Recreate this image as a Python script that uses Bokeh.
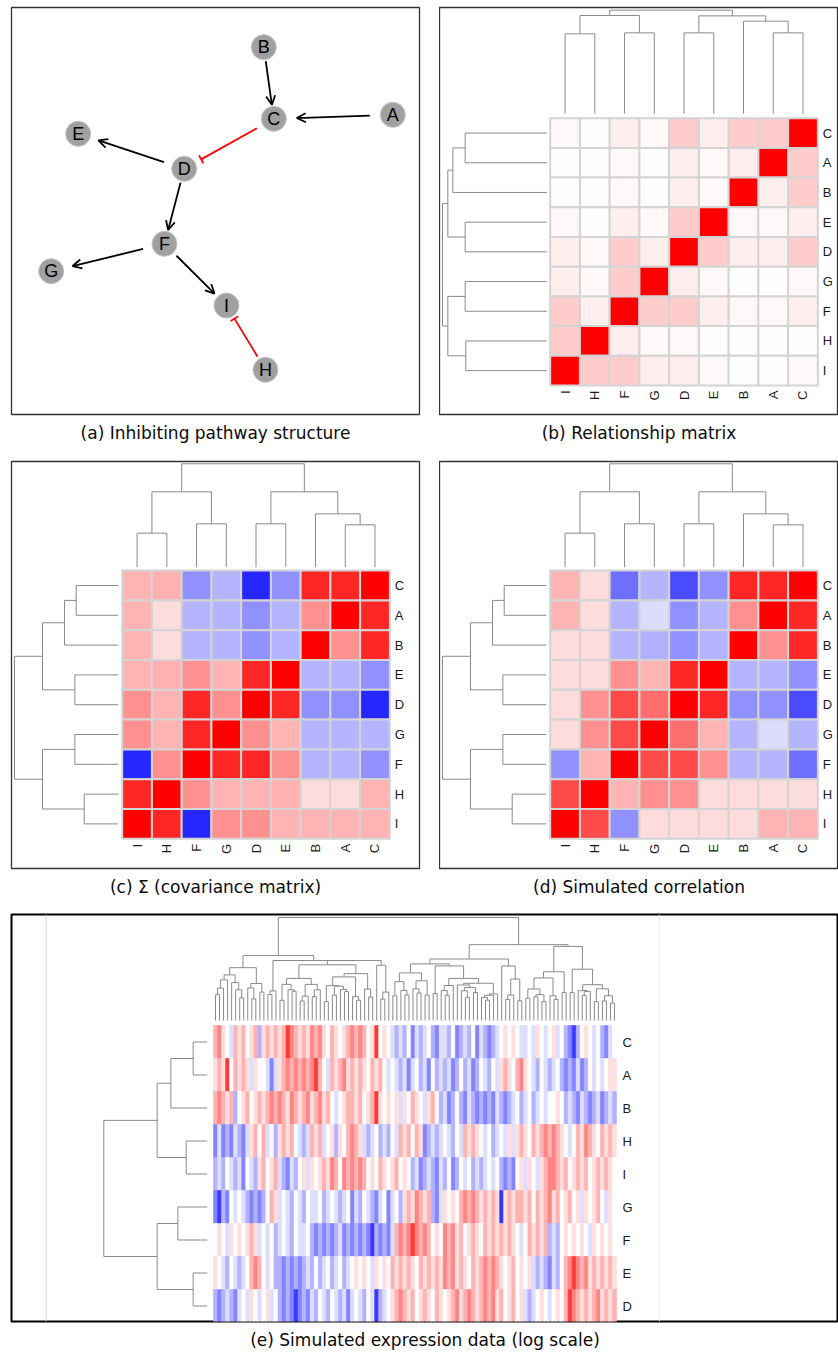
import numpy as np
from bokeh.plotting import figure
from bokeh.models import Range1d, ColumnDataSource, Arrow, OpenHead, TeeHead, LinearColorMapper, Span
from bokeh.layouts import column, row
from bokeh.embed import file_html
from bokeh.resources import INLINE
from bokeh.core.properties import value

# ------------------------------------------------------------------ data
# (a) pathway graph: node layout (pixels inside the panel, y downward)
node_names = ["A", "B", "C", "D", "E", "F", "G", "H", "I"]
node_x = [381.3, 252.3, 262.3, 172.7, 66.7, 153.0, 39.7, 254.0, 215.0]
node_y = [107.3, 39.7, 111.3, 161.3, 126.3, 236.3, 263.7, 362.3, 298.0]
edge_from = ["B", "A", "C", "D", "D", "F", "F", "H"]
edge_to = ["C", "C", "D", "E", "F", "G", "I", "I"]
edge_kind = ["act", "act", "inh", "act", "act", "act", "act", "inh"]

# (b)-(d) heatmaps: columns left->right, rows top->bottom
heat_cols = ["I", "H", "F", "G", "D", "E", "B", "A", "C"]
heat_rows = ["C", "A", "B", "E", "D", "G", "F", "H", "I"]

relationship = [
    [0.03, 0.00, 0.07, 0.03, 0.20, 0.07, 0.20, 0.20, 1.00],
    [0.00, 0.00, 0.03, 0.00, 0.07, 0.03, 0.07, 1.00, 0.20],
    [0.00, 0.00, 0.03, 0.00, 0.07, 0.03, 1.00, 0.07, 0.20],
    [0.03, 0.00, 0.07, 0.03, 0.20, 1.00, 0.03, 0.03, 0.07],
    [0.07, 0.03, 0.20, 0.07, 1.00, 0.20, 0.07, 0.07, 0.20],
    [0.07, 0.03, 0.20, 1.00, 0.07, 0.03, 0.00, 0.00, 0.03],
    [0.20, 0.07, 1.00, 0.20, 0.20, 0.07, 0.03, 0.03, 0.07],
    [0.20, 1.00, 0.07, 0.03, 0.03, 0.00, 0.00, 0.00, 0.00],
    [1.00, 0.20, 0.20, 0.07, 0.07, 0.03, 0.00, 0.00, 0.03],
]

covariance = [
    [0.29, 0.31, -0.43, -0.29, -0.85, -0.43, 0.85, 0.85, 1.00],
    [0.29, 0.14, -0.29, -0.29, -0.43, -0.29, 0.43, 1.00, 0.85],
    [0.29, 0.14, -0.29, -0.29, -0.43, -0.29, 1.00, 0.43, 0.85],
    [0.29, 0.31, 0.43, 0.29, 0.85, 1.00, -0.29, -0.29, -0.43],
    [0.43, 0.29, 0.85, 0.43, 1.00, 0.85, -0.43, -0.43, -0.85],
    [0.43, 0.29, 0.85, 1.00, 0.43, 0.29, -0.29, -0.29, -0.29],
    [-0.85, 0.43, 1.00, 0.85, 0.85, 0.43, -0.29, -0.29, -0.43],
    [0.85, 1.00, 0.43, 0.29, 0.29, 0.31, 0.14, 0.14, 0.29],
    [1.00, 0.85, -0.85, 0.43, 0.43, 0.29, 0.29, 0.29, 0.29],
]

correlation = [
    [0.29, 0.14, -0.57, -0.29, -0.71, -0.43, 0.85, 0.85, 1.00],
    [0.29, 0.14, -0.29, -0.14, -0.43, -0.29, 0.43, 1.00, 0.85],
    [0.14, 0.14, -0.29, -0.31, -0.43, -0.29, 1.00, 0.43, 0.85],
    [0.14, 0.14, 0.43, 0.29, 0.85, 1.00, -0.29, -0.29, -0.43],
    [0.14, 0.43, 0.71, 0.57, 1.00, 0.85, -0.43, -0.43, -0.71],
    [0.14, 0.43, 0.71, 1.00, 0.57, 0.29, -0.29, -0.14, -0.29],
    [-0.43, 0.29, 1.00, 0.71, 0.71, 0.43, -0.29, -0.29, -0.57],
    [0.71, 1.00, 0.29, 0.43, 0.43, 0.14, 0.14, 0.14, 0.14],
    [1.00, 0.71, -0.43, 0.14, 0.14, 0.14, 0.14, 0.29, 0.29],
]

# dendrogram merges: [left, right, height]; ints refer to earlier merges
col_merges_b = [["I", "H", 240], ["F", "G", 243], ["D", "E", 243], ["A", "C", 243],
                ["B", 3, 278], [0, 1, 295], [2, 4, 294], [5, 6, 311]]
row_merges_b = [["C", "A", 245], [0, "B", 282], ["E", "D", 245], [1, 2, 297],
                ["G", "F", 245], ["H", "I", 243], [4, 5, 297], [3, 6, 313]]
col_merges_cd = [["I", "H", 102], ["F", "G", 130], ["D", "E", 130], ["A", "C", 127],
                 ["B", 3, 160], [0, 1, 226], [2, 4, 226], [5, 6, 310]]
row_merges_cd = [["C", "A", 126], [0, "B", 161], ["E", "D", 130], [1, 2, 227],
                 ["G", "F", 130], ["H", "I", 102], [4, 5, 227], [3, 6, 311]]

# (e) simulated expression: rows top->bottom, 100 column bands, levels -4..4
expr_rows = ["C", "A", "B", "H", "I", "G", "F", "E", "D"]
row_merges_e = [["C", "A", 14], [0, "B", 36.3], ["H", "I", 21], [1, 2, 50],
                ["G", "F", 29.3], ["E", "D", 14], [4, 5, 50], [3, 6, 103.3]]
level_values = [-0.78, -0.48, -0.3, -0.13, 0.0, 0.13, 0.3, 0.48, 0.78]

expr_C = [2, 3, 1, 0, -1, 2, 1, 2, 0, 1, 2, -2, 1, 2, 1, 2, 1, 2, 4, 3, 2, 1, 2, 1, 3, 2, 3, 1, 0, 2, 1, 0, 1, 2,
          3, 2, 3, 2, 0, 1, 4, 0, 1, 0, -1, -2, -1, -2, 0, -3, -1, -2, -1, 0, -2, -3, -1, -1, -2, 0, -3, -2, -1, -2, 0, -3, -1,
          -2, -3, -2, -1, 0, 1, 0, 1, 0, -1, -1, 0, -1, 1, 0, -1, 0, 1, -1, 0, -2, -3, -4, -2, 0, 1, 0, -1, 0, -2, -3, -1, 0]
expr_A = [1, 2, 1, 4, 0, 2, 1, 2, 1, -1, 1, 0, 0, -1, -3, -1, 1, 2, 3, 2, 3, 2, 3, 2, 3, 4, 2, 0, -1, 2, 1, 2, 3, 1,
          2, 1, 2, 1, 0, 2, 1, 2, 0, -1, 0, -1, -2, -1, -3, -1, 0, -2, -1, -3, 0, -2, -1, -2, -1, -3, -2, 0, -2, -1, -3, -2, 0,
          -1, -2, 0, -1, 1, 2, 1, 0, 2, 3, 1, 0, -1, -2, 0, -1, -2, -1, 0, -2, -3, -2, -3, -1, -3, -2, 0, -1, 0, -1, 0, 1, 1]
expr_B = [2, 3, 2, 1, 2, -2, 0, 1, 2, 0, 1, 2, 1, 2, 3, 2, 3, 2, 1, 3, 2, 1, 2, 3, 1, 2, 3, 1, 2, 0, -1, 0, 1, 2,
          2, 1, 2, 0, 1, 2, 4, 1, 0, 1, 0, 1, -1, 1, 0, 2, 1, 0, -1, 1, 2, 0, -2, -1, -3, -2, 0, -2, -3, -1, -2, -3, -2,
          -3, -2, -3, -1, -2, -3, -2, -1, 0, -2, -1, 0, -2, -1, 0, -1, 0, 0, 1, 0, -2, -1, -2, -3, -1, -2, -3, -2, -1, -3, -2, -1, -2]
expr_H = [-3, -1, -3, -2, -3, -1, -2, -3, -1, 1, 2, 0, 2, -1, 0, -2, 1, 2, 1, 2, 0, -1, -2, -1, 2, 1, 2, -1, 0, 1, -2, 1, 0, 2,
          3, 2, 1, -1, -2, -1, 0, -2, -1, -2, 0, -1, 2, 1, 2, 0, 2, 1, -3, -2, -1, -2, -1, 0, -1, -2, 0, -1, 2, 1, 2, 1, 0,
          -1, 0, -2, -1, 0, -1, 1, -1, 1, 2, 1, 0, 2, 1, 2, 3, 2, 3, 2, 1, 0, -1, 0, 2, 1, 3, 2, 1, 0, 2, 1, 2, 1]
expr_I = [-2, -1, -2, 0, -1, -2, -1, -3, 0, -1, -2, 1, 2, 0, 1, 2, -1, -2, -3, -1, -2, 0, 1, -1, 1, 0, 1, 2, 1, 3, 2, 0, 3, 2,
          3, 2, 3, 2, 0, 1, 0, 2, 1, 0, 1, 2, 0, 1, 0, -2, -1, -3, -2, -1, -2, -3, -1, -2, 0, -3, -2, 0, -1, 0, -2, -1, -2,
          -1, 0, -1, 0, -2, -3, -2, -3, 0, 1, -1, 1, 0, -1, 1, 2, 3, 3, 2, 1, 2, 0, 1, 2, 1, 2, 0, 1, 2, 1, 2, 1, 0]
expr_G = [-3, -4, -2, -3, 0, -1, 0, -1, -2, -3, -2, -3, -2, 0, 2, 1, -1, 0, -1, -2, 0, -1, -2, 0, -1, -1, 0, -2, -1, 0, -1, -2, -1, 0,
          -3, -1, -2, 0, -1, -2, -3, -1, 0, -3, -1, 0, -2, 1, 2, 1, 3, 2, 1, 2, -2, -3, -1, 1, 0, 1, 0, 2, 3, 2, 3, 2, 1,
          2, 1, 2, 1, -4, 1, 2, 1, 2, 2, 1, 2, 0, 2, 1, 2, 3, 1, 2, 0, 1, 2, 0, 1, -1, 1, 0, 1, 2, 0, -1, 1, 0]
expr_F = [0, 1, 0, -1, 1, 0, 1, 0, 1, 2, 1, -1, 0, -1, 0, -2, -1, 0, -1, -2, 0, -1, -1, 0, -2, -3, -2, -3, -2, -3, -2, -1, -3, -2,
          -3, -2, -3, -2, -3, -4, -2, -3, -2, -3, -1, 2, 3, 2, 3, 4, 3, 2, 3, 2, 0, 1, 0, 3, 2, 3, 1, 2, 0, 1, 2, 1, 0,
          2, 1, 2, 1, 2, 1, 2, 1, 0, -1, 0, 2, 1, 2, 1, 2, -2, -1, -2, 0, 1, 0, 1, 0, 1, 0, -1, 1, 0, 1, 0, 1, 0]
expr_E = [1, 0, -1, -2, 0, -1, -2, -1, 0, 2, 3, 2, 0, -1, 0, -2, -2, -3, -2, -3, -2, -3, -2, -1, -2, 0, -2, -1, 0, -2, -1, 0, -2, -1,
          0, 1, 0, 1, 0, -1, 1, 0, 1, 0, 2, 1, 2, 1, 2, 1, 0, 2, 1, 2, 1, 2, 1, 3, 2, 3, 1, 2, 1, 0, 2, 1, 2,
          3, 2, 3, 2, 1, 0, 1, 2, 0, 1, 0, 1, -1, -2, -1, -2, -3, -1, -2, 0, 2, 3, 4, 3, 2, 3, 1, 2, 1, 2, 1, 2, 1]
expr_D = [-2, -3, -2, -1, -2, -3, -1, 0, -1, 1, 0, -1, 0, 1, -1, 0, -2, -3, -2, -3, -4, -3, -2, -3, -1, -2, 0, -1, -2, 0, -1, -2, -1, -3,
          -1, 0, -1, -2, 0, -1, -4, -2, -1, 0, 1, 2, 3, 2, 1, 2, 0, 1, 2, 1, 0, 2, 1, 0, 1, 2, 3, 1, 2, 3, 2, 1, 2,
          3, 2, 3, 1, 2, 0, 1, 2, 0, 1, -1, -2, -1, 0, 1, 0, -1, 0, 1, 0, 2, 4, 3, 2, 1, 2, 1, 2, 3, 1, 2, 1, 2]
expr_levels = [expr_C, expr_A, expr_B, expr_H, expr_I, expr_G, expr_F, expr_E, expr_D]

captions = ["(a) Inhibiting pathway structure", "(b) Relationship matrix",
            "(c) \u03a3 (covariance matrix)", "(d) Simulated correlation",
            "(e) Simulated expression data (log scale)"]

# ------------------------------------------------------------------ styles
palette = []
for k in range(256):
    t = k / 255 * 2 - 1
    if t < 0:
        c = int(round(255 * (1 + t)))
        palette.append("#%02x%02x%02x" % (c, c, 255))
    else:
        c = int(round(255 * (1 - t)))
        palette.append("#%02x%02x%02x" % (255, c, c))
mapper = LinearColorMapper(palette=palette, low=-1, high=1)

DENDRO_COLOR = "#8a8a8a"
LABEL_FONT = value("Liberation Sans")


class Geo:
    """pixel <-> data conversion for one panel"""
    def __init__(s, fl, fr, ft, fb, hl, hb, cw, ch):
        s.fl, s.fr, s.ft, s.fb, s.hl, s.hb, s.cw, s.ch = fl, fr, ft, fb, hl, hb, cw, ch

    def x(s, px):
        return (px - s.hl) / s.cw

    def y(s, py):
        return (s.hb - py) / s.ch


def panel(fw, fh, bl, br, bt, bb, xr, yr, caption, ow=1.3, oc="#333333"):
    p = figure(frame_width=fw, frame_height=fh, x_range=Range1d(*xr), y_range=Range1d(*yr),
               min_border_left=bl, min_border_right=br, min_border_top=bt, min_border_bottom=bb,
               x_axis_location=None, y_axis_location=None, toolbar_location=None,
               output_backend="svg", title=caption, title_location="below")
    p.grid.visible = False
    p.outline_line_color = oc
    p.outline_line_width = ow
    p.background_fill_color = "white"
    p.border_fill_color = "white"
    p.title.align = "center"
    p.title.text_font = "DejaVu Sans"
    p.title.text_font_size = "17px"
    p.title.text_font_style = "normal"
    p.title.text_color = "#0a0a0a"
    p.title.standoff = 13
    return p


def dendro(order_pos, merges):
    node_p, node_h, segs = [], [], []

    def get(ref):
        if isinstance(ref, str):
            return order_pos[ref], 0.0
        return node_p[ref], node_h[ref]

    for a, b, h in merges:
        pa, ha = get(a)
        pb, hb = get(b)
        segs += [(pa, ha, pa, h), (pb, hb, pb, h), (pa, h, pb, h)]
        node_p.append((pa + pb) / 2)
        node_h.append(h)
    return segs, max(node_h)


def draw_top_dendro(p, segs, hmax, leaf_y, root_y):
    sc = (root_y - leaf_y) / hmax
    p.segment(x0=[s[0] for s in segs], y0=[leaf_y + s[1] * sc for s in segs],
              x1=[s[2] for s in segs], y1=[leaf_y + s[3] * sc for s in segs],
              line_color=DENDRO_COLOR, line_width=1)


def draw_left_dendro(p, segs, hmax, leaf_x, root_x):
    sc = (leaf_x - root_x) / hmax
    p.segment(y0=[s[0] for s in segs], x0=[leaf_x - s[1] * sc for s in segs],
              y1=[s[2] for s in segs], x1=[leaf_x - s[3] * sc for s in segs],
              line_color=DENDRO_COLOR, line_width=1)


# ------------------------------------------------------------------ (a)
pa = panel(408, 407, 11, 20, 7, 40, (0, 408), (407, 0), captions[0])
pos = {n: (x, y) for n, x, y in zip(node_names, node_x, node_y)}
EA, EB = 23.0, 14.0
segs_act = dict(x0=[], y0=[], x1=[], y1=[])
segs_inh = dict(x0=[], y0=[], x1=[], y1=[])
for f, t, k in zip(edge_from, edge_to, edge_kind):
    (x0, y0), (x1, y1) = pos[f], pos[t]
    dx, dy = x1 - x0, y1 - y0
    L = np.hypot(dx, dy)
    ux, uy = dx / L, dy / L
    r = EA * EB / np.sqrt((EB * ux) ** 2 + (EA * uy) ** 2)
    d = segs_act if k == "act" else segs_inh
    d["x0"].append(x0 + r * ux)
    d["y0"].append(y0 + r * uy)
    d["x1"].append(x1 - r * ux)
    d["y1"].append(y1 - r * uy)
pa.add_layout(Arrow(end=OpenHead(size=9, line_width=1.8, line_color="black"),
                    x_start="x0", y_start="y0", x_end="x1", y_end="y1",
                    source=ColumnDataSource(segs_act), line_width=1.8, line_color="black"))
pa.add_layout(Arrow(end=TeeHead(size=9, line_width=1.8, line_color="red"),
                    x_start="x0", y_start="y0", x_end="x1", y_end="y1",
                    source=ColumnDataSource(segs_inh), line_width=1.8, line_color="red"))
pa.scatter(node_x, node_y, size=25, marker="circle", fill_color="#a0a0a0", line_color="#c4c4c4", line_width=1)
pa.text(node_x, node_y, text=node_names, text_align="center", text_baseline="middle",
        text_font=LABEL_FONT, text_font_size="18px", text_color="black")


# ------------------------------------------------------------------ (b)-(d)
def heat_panel(geo, fw, fh, bl, br, bb, mat, col_merges, row_merges,
               top_leaf_px, top_root_px, left_leaf_px, left_root_px, caption):
    p = panel(fw, fh, bl, br, 7, bb, (geo.x(geo.fl), geo.x(geo.fr)),
              (geo.y(geo.fb), geo.y(geo.ft)), caption)
    n = len(heat_cols)
    xs, ys, vs = [], [], []
    for r in range(n):
        for c in range(n):
            xs.append(c + 0.5)
            ys.append(n - 1 - r + 0.5)
            vs.append(mat[r][c])
    p.rect("x", "y", 1, 1, source=ColumnDataSource(dict(x=xs, y=ys, v=vs)),
           fill_color={"field": "v", "transform": mapper}, line_color="#d4d4d4", line_width=2)
    p.text([n + 5 / geo.cw] * n, [n - 1 - r + 0.5 for r in range(n)], text=heat_rows,
           text_align="left", text_baseline="middle", text_font=LABEL_FONT,
           text_font_size="13px", text_color="#1a1a1a")
    p.text([c + 0.5 for c in range(n)], [-5 / geo.ch] * n, text=heat_cols, angle=np.pi / 2,
           text_align="right", text_baseline="middle", text_font=LABEL_FONT,
           text_font_size="13px", text_color="#1a1a1a")
    cpos = {name: i + 0.5 for i, name in enumerate(heat_cols)}
    segs, hm = dendro(cpos, col_merges)
    draw_top_dendro(p, segs, hm, geo.y(top_leaf_px), geo.y(top_root_px))
    rpos = {name: n - 1 - i + 0.5 for i, name in enumerate(heat_rows)}
    segs, hm = dendro(rpos, row_merges)
    draw_left_dendro(p, segs, hm, geo.x(left_leaf_px), geo.x(left_root_px))
    return p


gb = Geo(439, 838, 7, 414, 549.7, 385.0, 29.74, 29.7)
pb = heat_panel(gb, 399, 407, 0, 0, 40, relationship, col_merges_b, row_merges_b,
                113.3, 9.7, 546.3, 442.0, captions[1])
gc = Geo(11, 419, 461, 868, 121.7, 838.3, 29.74, 29.8)
pc = heat_panel(gc, 408, 407, 11, 20, 39, covariance, col_merges_cd, row_merges_cd,
                566.7, 463.3, 117.7, 14.0, captions[2])
gd = Geo(439, 838, 461, 868, 549.7, 838.3, 29.74, 29.8)
pd = heat_panel(gd, 399, 407, 0, 0, 39, correlation, col_merges_cd, row_merges_cd,
                566.7, 463.3, 545.7, 442.0, captions[3])

# ------------------------------------------------------------------ (e)
ge = Geo(11, 838, 914, 1321, 213.0, 1322.0, 4.03, 33.0)
pe = panel(827, 407, 11, 0, 7, 32, (ge.x(ge.fl), ge.x(ge.fr)), (ge.y(ge.fb), ge.y(ge.ft)),
           captions[4], ow=2, oc="black")
nr = len(expr_rows)
ncol = len(expr_levels[0])
for lv in expr_levels:
    assert len(lv) == ncol, len(lv)
X = np.array([[level_values[v + 4] for v in lv] for lv in expr_levels])
ex, ey, ev = [], [], []
for r in range(nr):
    for c in range(ncol):
        ex.append(c + 0.5)
        ey.append(nr - 1 - r + 0.5)
        ev.append(X[r, c])
pe.add_layout(Span(location=ge.x(45.7), dimension="height", line_color="#cfcfcf", line_width=1))
pe.add_layout(Span(location=ge.x(659.0), dimension="height", line_color="#eeeeee", line_width=1))
pe.rect("x", "y", 1, 1, source=ColumnDataSource(dict(x=ex, y=ey, v=ev)),
        fill_color={"field": "v", "transform": mapper},
        line_color={"field": "v", "transform": mapper}, line_width=0.6)
pe.text([ncol + 6 / ge.cw] * nr, [nr - 1 - r + 0.5 for r in range(nr)], text=expr_rows,
        text_align="left", text_baseline="middle", text_font=LABEL_FONT,
        text_font_size="13px", text_color="#1a1a1a")

# column tree: order-preserving complete-linkage clustering of the bands
clusters = [dict(m=[j], p=j + 0.5, h=0.0) for j in range(ncol)]
col_segs = []
while len(clusters) > 1:
    best = None
    for k in range(len(clusters) - 1):
        A = X[:, clusters[k]["m"]]
        B = X[:, clusters[k + 1]["m"]]
        d = np.sqrt(((A[:, :, None] - B[:, None, :]) ** 2).sum(axis=0)).max()
        if best is None or d < best[0]:
            best = (d, k)
    d, k = best
    a, b = clusters[k], clusters[k + 1]
    h = max(d, a["h"], b["h"])
    col_segs += [(a["p"], a["h"], a["p"], h), (b["p"], b["h"], b["p"], h), (a["p"], h, b["p"], h)]
    clusters[k:k + 2] = [dict(m=a["m"] + b["m"], p=(a["p"] + b["p"]) / 2, h=h)]
draw_top_dendro(pe, col_segs, clusters[0]["h"], ge.y(1020.0), ge.y(917.0))

rpos_e = {name: nr - 1 - i + 0.5 for i, name in enumerate(expr_rows)}
segs_e, hm_e = dendro(rpos_e, row_merges_e)
draw_left_dendro(pe, segs_e, hm_e, ge.x(206.7), ge.x(103.3))

layout = column(row(pa, pb), row(pc, pd), pe)
open("out.html", "w").write(file_html(layout, INLINE))
